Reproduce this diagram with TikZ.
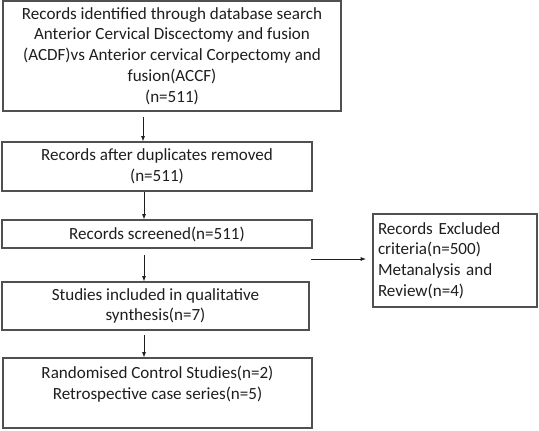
\documentclass[tikz,border=0pt]{standalone}
\usepackage{fontspec}
\setmainfont{Carlito}
\usetikzlibrary{arrows.meta}
\definecolor{edge}{HTML}{505050}
\definecolor{ink}{HTML}{1E1E1E}
\begin{document}
\begin{tikzpicture}[x=0.75pt,y=-0.75pt,
  box/.style={draw=edge,line width=0.9pt,rectangle,inner sep=0pt,text=ink,
    font=\fontsize{12.8}{15.6}\selectfont,align=center},
  conn/.style={draw=ink,line width=0.6pt,-{Latex[length=4pt,width=3pt]}}]
\useasboundingbox (0,0) rectangle (539,431);
\node[box,minimum width=338*0.75pt,minimum height=110*0.75pt] (b1) at (172,56)
  {Records identified through database search\\Anterior Cervical Discectomy and fusion\\(ACDF)vs Anterior cervical Corpectomy and\\fusion(ACCF)\\(n=511)};
\node[box,minimum width=310*0.75pt,minimum height=49*0.75pt] (b2) at (157,166.5)
  {Records after duplicates removed\\(n=511)};
\node[box,minimum width=310*0.75pt,minimum height=28*0.75pt] (b3) at (157,234)
  {Records screened(n=511)};
\node[box,minimum width=307*0.75pt,minimum height=48*0.75pt] (b4) at (155.5,306)
  {Studies included in qualitative\\synthesis(n=7)};
\node[box,minimum width=309*0.75pt,minimum height=70*0.75pt] (b5) at (157.5,393)
  {Randomised Control Studies(n=2)\\Retrospective case series(n=5)\\\mbox{}};
\node[box,minimum width=164*0.75pt,minimum height=93*0.75pt,align=left,
  text width=154*0.75pt,inner xsep=5*0.75pt] (b6) at (455,260.5)
  {Records Excluded\\criteria(n=500)\\Metanalysis and\\Review(n=4)};
\coordinate (s1) at (143,117);
\coordinate (s3) at (144,255);
\coordinate (s4) at (144,335);
\coordinate (s5) at (311,259);
\coordinate (e5) at (366,259);
\draw[conn] (s1) -- (s1 |- b2.north);
\draw[conn] (b2.south -| s3) -- (s3 |- b3.north);
\draw[conn] (s3) -- (s3 |- b4.north);
\draw[conn] (s4) -- (s4 |- b5.north);
\draw[conn] (s5) -- (e5);
\end{tikzpicture}
\end{document}
